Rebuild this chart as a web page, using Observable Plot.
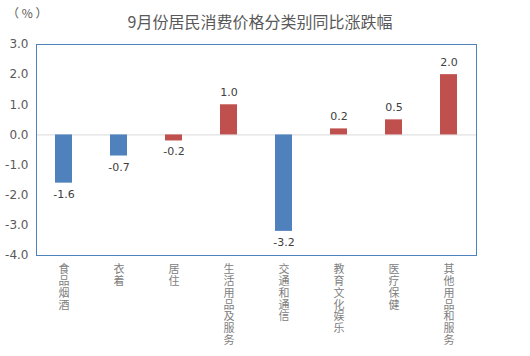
<!DOCTYPE html>
<html><head><meta charset="utf-8">
<script src="https://cdn.jsdelivr.net/npm/d3@7"></script>
<script src="https://cdn.jsdelivr.net/npm/@observablehq/plot@0.6"></script>
<style>
body{margin:0;background:#fff;font-family:"Noto Sans CJK SC","Noto Sans",sans-serif;}
#wrap{position:relative;width:530px;height:356px;}
#title{position:absolute;left:0;width:520px;top:9px;text-align:center;font-size:16px;color:#595959;}
#unit{position:absolute;left:7px;top:4px;font-size:12px;color:#595959;}
</style></head>
<body><div id="wrap"><div id="title">9月份居民消费价格分类别同比涨跌幅</div><div id="unit">（ % ）</div></div>
<script>
const categories = ["食品烟酒","衣着","居住","生活用品及服务","交通和通信","教育文化娱乐","医疗保健","其他用品和服务"];
const values = [-1.6, -0.7, -0.2, 1.0, -3.2, 0.2, 0.5, 2.0];
const colors = ["#4F81BD","#4F81BD","#C0504D","#C0504D","#4F81BD","#C0504D","#C0504D","#C0504D"];
const yTicks = [-4, -3, -2, -1, 0, 1, 2, 3];
const data = categories.map((c, i) => ({c, v: values[i], col: colors[i]}));
const num = '"DejaVu Sans",sans-serif';
const chart = Plot.plot({
  width: 530, height: 356,
  marginLeft: 36, marginRight: 54, marginTop: 44, marginBottom: 101,
  style: {fontFamily: '"Noto Sans CJK SC","Noto Sans",sans-serif', color: "#595959", background: "transparent"},
  x: {domain: categories, paddingInner: 0.69, paddingOuter: 0.345, label: null},
  y: {domain: [-4, 3], label: null},
  marks: [
    Plot.ruleY([0], {stroke: "#D9D9D9", strokeWidth: 1}),
    Plot.barY(data, {x: "c", y: "v", fill: "col"}),
    Plot.text(data.filter(d => d.v >= 0), {x: "c", y: "v", text: d => d.v.toFixed(1), dy: -12, fontSize: 11, fontFamily: num, fill: "#404040"}),
    Plot.text(data.filter(d => d.v < 0), {x: "c", y: "v", text: d => d.v.toFixed(1), dy: 11, fontSize: 11, fontFamily: num, fill: "#404040"}),
    Plot.frame({stroke: "#4F81BD", strokeWidth: 1}),
    Plot.axisY({ticks: yTicks, tickSize: 0, tickPadding: 8, tickFormat: d => d.toFixed(1), fontSize: 12, fontFamily: num, fill: "#595959", label: null}),
    Plot.axisX({tickSize: 0, tickPadding: 9, tickFormat: d => d.split("").join("\n"), fontSize: 11, lineHeight: 1.08, fill: "#808080", label: null})
  ]
});
chart.style.position = "absolute";
chart.style.left = "0"; chart.style.top = "0";
document.getElementById("wrap").appendChild(chart);
</script>
</body></html>
